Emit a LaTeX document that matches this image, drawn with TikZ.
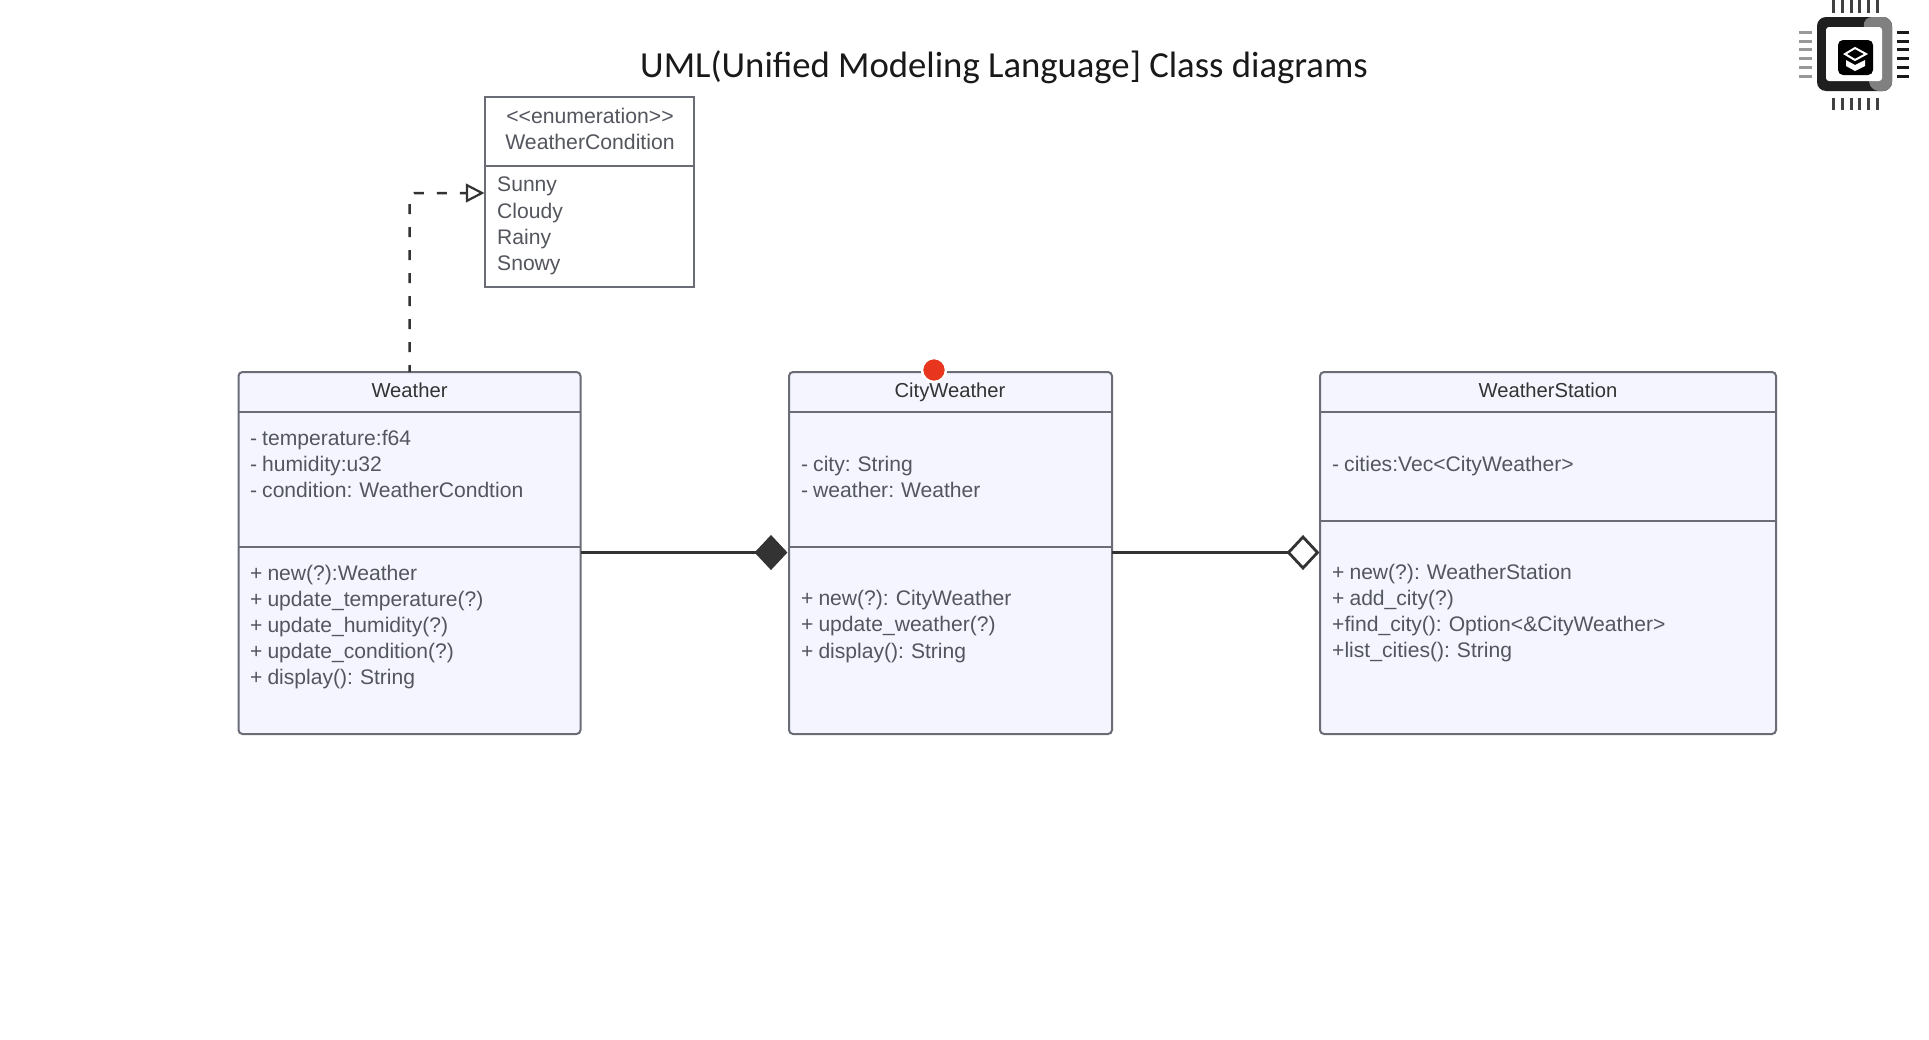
\documentclass[tikz,border=0pt]{standalone}
\usepackage{fontspec}
\setmainfont[WordSpace=0.85]{Liberation Sans}
\newfontfamily\titlefont{Carlito}
\usetikzlibrary{arrows.meta,shapes.geometric,calc}
\definecolor{boxfill}{HTML}{F4F5FE}
\definecolor{boxline}{HTML}{6A6D76}
\definecolor{txt}{HTML}{54565E}
\definecolor{linkc}{HTML}{333333}
\definecolor{markred}{HTML}{E8351E}
\tikzset{
 x=1pt,y=-1pt,
 umlclass/.style={draw=boxline,fill=boxfill,line width=2pt,rounded corners=4pt,minimum width=#1,inner sep=0pt,outer sep=0pt,anchor=north west},
 enumclass/.style={draw=boxline,fill=white,line width=2pt,inner sep=0pt,outer sep=0pt,anchor=north west},
 divider/.style={draw=boxline,line width=2pt},
 body/.style={font=\fontsize{21.1pt}{26.2pt}\selectfont,text=txt,align=left,anchor=west,inner sep=0pt},
 head/.style={font=\fontsize{20.2pt}{26.2pt}\selectfont,text=#1,align=center,inner sep=0pt,anchor=base},
 head/.default=black!80,
 enumhd/.style={font=\fontsize{21.2pt}{26.2pt}\selectfont,text=txt,align=center,inner sep=0pt},
 link/.style={draw=linkc,line width=3pt},
 depend/.style={draw=linkc,line width=2.5pt,dash pattern=on 10pt off 13pt,dash phase=3pt,rounded corners=5pt},
 depmark/.style={draw=linkc,fill=white,line width=2.2pt,isosceles triangle,isosceles triangle apex angle=55,minimum height=15pt,minimum width=10pt,inner sep=0pt,outer sep=0pt},
 dmd/.style={diamond,aspect=1,minimum width=29pt,minimum height=31pt,inner sep=0pt,outer sep=0pt,line width=2.8pt,draw=linkc,fill=#1},
 pin/.style={line width=3pt,line cap=butt},
}
\begin{document}
\begin{tikzpicture}
\useasboundingbox (0,0) rectangle (1929,1039);
\fill[white] (0,0) rectangle (1929,1039);
% title
\node[font=\titlefont\fontsize{36.7pt}{40pt}\selectfont,text=black!90,inner sep=0pt] (title) at (1004,67) {UML(Unified Modeling Language] Class diagrams};
% enumeration
\node[enumclass,minimum width=209pt,minimum height=190pt] (enum) at (485,97) {};
\draw[divider] (enum.west |- 0,166) coordinate (ed1) -- (enum.east |- ed1);
\node[enumhd] (enumhead) at (590,129) {{<}{<}enumeration{>}{>}\\WeatherCondition};
\node[body] (enumvals) at (497,226) {Sunny\\Cloudy\\Rainy\\Snowy};
% Weather
\node[umlclass=342pt,minimum height=362pt] (weather) at (238.5,372) {};
\draw[divider] (weather.west |- 0,412) coordinate (wd1) -- (weather.east |- wd1);
\draw[divider] (weather.west |- 0,547) coordinate (wd2) -- (weather.east |- wd2);
\node[head] (weatherhead) at (409.5,397) {Weather};
\node[body] (weatherattrs) at (250,464) {- temperature:f64\\- humidity:u32\\- condition: WeatherCondtion};
\node[body] (weatherops) at (250,627) {+ new(?):Weather\\+ update\_temperature(?)\\+ update\_humidity(?)\\+ update\_condition(?)\\+ display(): String};
% CityWeather
\node[umlclass=323pt,minimum height=362pt] (city) at (789,372) {};
\draw[divider] (city.west |- 0,412) coordinate (cd1) -- (city.east |- cd1);
\draw[divider] (city.west |- 0,547) coordinate (cd2) -- (city.east |- cd2);
\node[head] (cityhead) at (950,397) {CityWeather};
\node[body] (cityattrs) at (801,477) {- city: String\\- weather: Weather};
\node[body] (cityops) at (801,626.5) {+ new(?): CityWeather\\+ update\_weather(?)\\+ display(): String};
% WeatherStation
\node[umlclass=456pt,minimum height=362pt] (station) at (1320,372) {};
\draw[divider] (station.west |- 0,412) coordinate (sd1) -- (station.east |- sd1);
\draw[divider] (station.west |- 0,521) coordinate (sd2) -- (station.east |- sd2);
\node[head] (stationhead) at (1548,397) {WeatherStation};
\node[body] (stationattrs) at (1332,466) {- cities:Vec<CityWeather>};
\node[body] (stationops) at (1332,613) {+ new(?): WeatherStation\\+ add\_city(?)\\+find\_city(): Option<\&CityWeather>\\+list\_cities(): String};
% connectors
\node[dmd=linkc] (comp) at (771,552.5) {};
\node[dmd=white] (aggr) at (1303,552.5) {};
\draw[link] (weather.east |- comp) -- (comp.west);
\draw[link] (city.east |- aggr) -- (aggr.west);
\coordinate (enumin) at ($(enum.west |- 0,193)+(-3,0)$);
\draw[depend] (weather.north) -- (weather.north |- enumin) -- (enumin);
\node[depmark,anchor=apex] (deptip) at (enumin) {};
\draw[line width=2.5pt,draw=linkc] (deptip.west) -- +(-5,0);
% red marker
\node[draw=white,line width=2.5pt,fill=markred,minimum size=24pt,inner sep=0pt,circle] (marker) at (934,370) {};
% logo
\fill[black!88,rounded corners=9pt] (1817,17) rectangle (1892,91);
\fill[black!50,rounded corners=9pt] (1863,17) -- (1892,17) -- (1892,91) -- (1870,91) -- cycle;
\fill[white,rounded corners=3pt] (1826,27) rectangle (1882,81);
\fill[black,rounded corners=5pt] (1838,40) rectangle (1873,75);
\draw[white,line width=2pt] (1845,54) -- (1855,48) -- (1866,54) -- (1855,60) -- cycle;
\fill[white] (1846,60) -- (1855,65) -- (1865,60) -- (1865,66) -- (1855,71) -- (1846,66) -- cycle;
\foreach \p in {1833,1842,1851,1859,1868,1877}{
  \draw[pin,black!75] (\p,0) -- (\p,13);
  \draw[pin,black!75] (\p,98) -- (\p,110);
}
\foreach \p in {32,41,49,58,67,76}{
  \draw[pin,black!40] (1799,\p) -- (1812,\p);
  \draw[pin,black!90] (1897,\p) -- (1909,\p);
}
\end{tikzpicture}
\end{document}
